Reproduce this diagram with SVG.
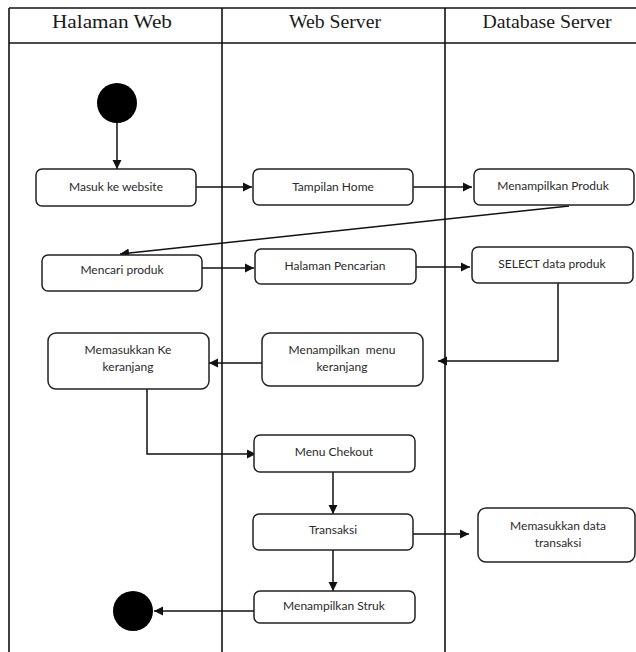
<svg xmlns="http://www.w3.org/2000/svg" width="636" height="652" viewBox="0 0 636 652">
<style>
.lane{stroke:#111;stroke-width:1.6;fill:none}
.hd{font-family:"Liberation Serif","Times New Roman",serif;font-size:19px;fill:#1a1a1a;text-anchor:middle}
.box{fill:#fff;stroke:#222;stroke-width:1.5}
.t{font-family:Lato,"Liberation Sans",sans-serif;font-size:12px;fill:#2a2a2a;text-anchor:middle;white-space:pre}
.c{stroke:#111;stroke-width:1.5;fill:none}
.dot{fill:#000}
</style>
<defs>
<marker id="ah" markerWidth="10" markerHeight="10" refX="9" refY="5" orient="auto" markerUnits="userSpaceOnUse">
<path d="M0,0.5 L9,5 L0,9.5 Z" fill="#111"/>
</marker>
</defs>
<g id="swimlanes">
<line class="lane" x1="9" y1="8" x2="636" y2="8"/>
<line class="lane" x1="9" y1="43" x2="636" y2="43"/>
<line class="lane" x1="9" y1="8" x2="9" y2="652"/>
<line class="lane" x1="222" y1="8" x2="222" y2="652"/>
<line class="lane" x1="445" y1="8" x2="445" y2="652"/>
<text class="hd" x="112" y="28" textLength="120" lengthAdjust="spacingAndGlyphs">Halaman Web</text>
<text class="hd" x="335" y="28" textLength="92" lengthAdjust="spacingAndGlyphs">Web Server</text>
<text class="hd" x="547" y="28" textLength="129" lengthAdjust="spacingAndGlyphs">Database Server</text>
</g>
<g id="connectors">
<line class="c" x1="117" y1="120" x2="117" y2="169" marker-end="url(#ah)"/>
<line class="c" x1="196" y1="187" x2="252" y2="187" marker-end="url(#ah)"/>
<line class="c" x1="413" y1="187" x2="472" y2="187" marker-end="url(#ah)"/>
<line class="c" x1="569" y1="206" x2="120" y2="254" marker-end="url(#ah)"/>
<line class="c" x1="202" y1="268" x2="254" y2="268" marker-end="url(#ah)"/>
<line class="c" x1="416" y1="267" x2="470" y2="267" marker-end="url(#ah)"/>
<polyline class="c" points="558,283 558,361 438,361" marker-end="url(#ah)"/>
<line class="c" x1="262" y1="363" x2="209" y2="363" marker-end="url(#ah)"/>
<polyline class="c" points="147,389 147,454 256,454" marker-end="url(#ah)"/>
<line class="c" x1="333" y1="472" x2="333" y2="514" marker-end="url(#ah)"/>
<line class="c" x1="413" y1="534" x2="469" y2="534" marker-end="url(#ah)"/>
<line class="c" x1="333" y1="550" x2="333" y2="591" marker-end="url(#ah)"/>
<line class="c" x1="260" y1="611" x2="154" y2="611" marker-end="url(#ah)"/>
</g>
<g id="start"><circle class="dot" cx="117" cy="103" r="20"/></g>
<g id="end"><circle class="dot" cx="133" cy="611" r="20"/></g>
<g id="masuk"><rect class="box" x="36" y="169" width="160" height="37" rx="6"/><text class="t" x="116" y="191">Masuk ke website</text></g>
<g id="tampilan-home"><rect class="box" x="253" y="169" width="160" height="36" rx="6"/><text class="t" x="333" y="191">Tampilan Home</text></g>
<g id="menampilkan-produk"><rect class="box" x="474" y="169" width="160" height="36" rx="6"/><text class="t" x="553" y="190">Menampilkan Produk</text></g>
<g id="mencari-produk"><rect class="box" x="42" y="255" width="160" height="36" rx="6"/><text class="t" x="122" y="274">Mencari produk</text></g>
<g id="halaman-pencarian"><rect class="box" x="255" y="249" width="161" height="35" rx="6"/><text class="t" x="335" y="270">Halaman Pencarian</text></g>
<g id="select-data"><rect class="box" x="472" y="247" width="161" height="36" rx="6"/><text class="t" x="552" y="268">SELECT data produk</text></g>
<g id="memasukkan-keranjang"><rect class="box" x="48" y="333" width="161" height="56" rx="8"/><text class="t" x="128" y="354">Memasukkan Ke</text><text class="t" x="128" y="371">keranjang</text></g>
<g id="menampilkan-menu"><rect class="box" x="262" y="333" width="161" height="53" rx="8"/><text class="t" x="342" y="354">Menampilkan  menu</text><text class="t" x="342" y="371">keranjang</text></g>
<g id="menu-chekout"><rect class="box" x="254" y="435" width="161" height="37" rx="6"/><text class="t" x="334" y="456">Menu Chekout</text></g>
<g id="transaksi"><rect class="box" x="253" y="514" width="160" height="36" rx="6"/><text class="t" x="333" y="534">Transaksi</text></g>
<g id="memasukkan-data"><rect class="box" x="478" y="508" width="157" height="54" rx="8"/><text class="t" x="558" y="530">Memasukkan data</text><text class="t" x="558" y="547">transaksi</text></g>
<g id="menampilkan-struk"><rect class="box" x="254" y="591" width="161" height="32" rx="6"/><text class="t" x="334" y="610">Menampilkan Struk</text></g>
</svg>
